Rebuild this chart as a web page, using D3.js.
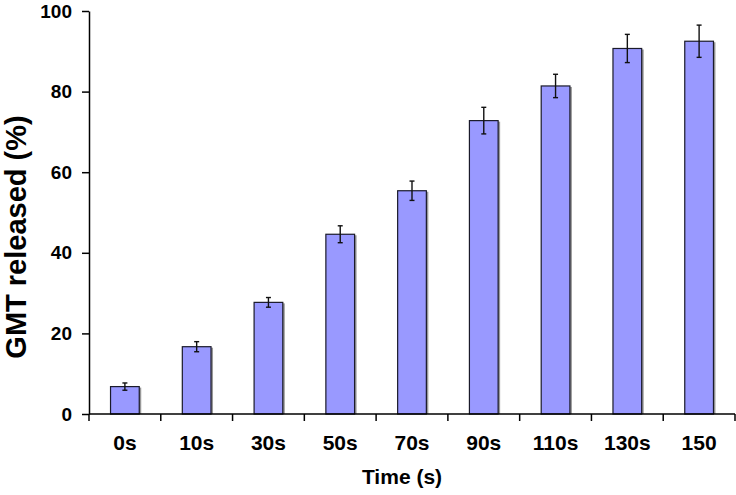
<!DOCTYPE html>
<html>
<head>
<meta charset="utf-8">
<script src="https://cdn.jsdelivr.net/npm/d3@7"></script>
<style>
  body { margin: 0; background: #fff; }
  text { font-family: "Liberation Sans", Arial, sans-serif; font-weight: bold; fill: #000; }
</style>
</head>
<body>
<script>
'use strict';

// chart values
const categories = ["0s", "10s", "30s", "50s", "70s", "90s", "110s", "130s", "150"];
const released = [6.8, 16.7, 27.7, 44.6, 55.4, 72.8, 81.4, 90.7, 92.5];
const errors = [0.9, 1.25, 1.2, 2.1, 2.4, 3.3, 2.9, 3.5, 4.0];
const yTicks = [0, 20, 40, 60, 80, 100];

(function() {

  const width = 736, height = 495;
  const plotLeft = 89, plotRight = 735, plotTop = 11, plotBottom = 414;

  const svg = d3.select('body')
    .append('svg')
    .attr('width', width)
    .attr('height', height);

  // scales
  const xScale = d3.scaleBand()
    .domain(categories)
    .range([plotLeft, plotRight])
    .paddingInner(0.6)
    .paddingOuter(0.3);

  const yScale = d3.scaleLinear()
    .domain([0, 100])
    .range([plotBottom, plotTop]);

  const rows = categories.map((c, i) => ({ cat: c, val: released[i], err: errors[i] }));
  const mid = d => xScale(d.cat) + xScale.bandwidth() / 2;

  // bar shadows
  svg.selectAll('.shadow')
    .data(rows)
    .enter()
    .append('rect')
    .attr('class', 'shadow')
    .attr('x', d => xScale(d.cat) + 2)
    .attr('y', d => yScale(d.val) + 1)
    .attr('width', xScale.bandwidth())
    .attr('height', d => plotBottom - yScale(d.val) - 1)
    .attr('fill', '#999');

  // bars
  svg.selectAll('.bar')
    .data(rows)
    .enter()
    .append('rect')
    .attr('class', 'bar')
    .attr('x', d => xScale(d.cat))
    .attr('y', d => yScale(d.val))
    .attr('width', xScale.bandwidth())
    .attr('height', d => plotBottom - yScale(d.val))
    .attr('fill', '#9999ff')
    .attr('stroke', '#1a1a2a')
    .attr('stroke-width', 1.2);

  // error bars
  const eb = svg.selectAll('.err')
    .data(rows)
    .enter()
    .append('g')
    .attr('class', 'err')
    .attr('stroke', '#111')
    .attr('stroke-width', 1.4);

  eb.append('line')
    .attr('x1', mid)
    .attr('x2', mid)
    .attr('y1', d => yScale(d.val + d.err))
    .attr('y2', d => yScale(d.val - d.err));

  [1, -1].forEach(s => {
    eb.append('line')
      .attr('x1', d => mid(d) - 2.5)
      .attr('x2', d => mid(d) + 2.5)
      .attr('y1', d => yScale(d.val + s * d.err))
      .attr('y2', d => yScale(d.val + s * d.err));
  });

  // y axis
  const yAxis = d3.axisLeft(yScale)
    .tickValues(yTicks)
    .tickSize(7)
    .tickPadding(10)
    .tickSizeOuter(0);

  const gy = svg.append('g')
    .attr('transform', 'translate(' + plotLeft + ',0)')
    .call(yAxis);
  gy.selectAll('path, line').attr('stroke', '#000').attr('stroke-width', 1.5);
  gy.selectAll('text').style('font-size', '19px').attr('font-family', null);

  // x axis: ticks between categories
  const gx = svg.append('g')
    .attr('transform', 'translate(0,' + plotBottom + ')');
  gx.append('line')
    .attr('x1', plotLeft).attr('x2', plotRight)
    .attr('stroke', '#000').attr('stroke-width', 1.5);
  const step = xScale.step();
  gx.selectAll('.xtick')
    .data(d3.range(categories.length + 1))
    .enter()
    .append('line')
    .attr('x1', i => plotLeft + i * step)
    .attr('x2', i => plotLeft + i * step)
    .attr('y1', 0)
    .attr('y2', 7)
    .attr('stroke', '#000')
    .attr('stroke-width', 1.5);
  gx.selectAll('.xlab')
    .data(categories)
    .enter()
    .append('text')
    .attr('x', d => xScale(d) + xScale.bandwidth() / 2)
    .attr('y', 36)
    .attr('text-anchor', 'middle')
    .style('font-size', '21px')
    .text(d => d);

  // axis titles
  svg.append('text')
    .attr('x', 402)
    .attr('y', 484)
    .attr('text-anchor', 'middle')
    .style('font-size', '21px')
    .text('Time (s)');

  svg.append('text')
    .attr('transform', 'translate(26, 237)rotate(-90)')
    .attr('text-anchor', 'middle')
    .style('font-size', '29px')
    .text('GMT released (%)');

})();
</script>
</body>
</html>
